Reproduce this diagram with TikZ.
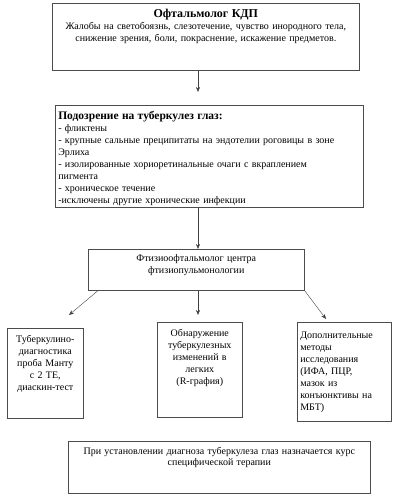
\documentclass[tikz,border=0pt]{standalone}
\usepackage{fontspec}
\setmainfont{Liberation Serif}
\usetikzlibrary{arrows.meta,calc}
\begin{document}
\begin{tikzpicture}[x=1pt,y=-1pt,box/.style={shape=rectangle,draw=black!70,semithick,inner sep=3pt,anchor=north west,font=\fontsize{10}{12}\selectfont},boxC/.style={box,align=center},boxL/.style={box,align=left},arr/.style={draw=black!75,-{Stealth[length=5pt,width=4pt]}}]
\def\ax{198};
\useasboundingbox (0,0) rectangle (400,500);

\node[boxC,text width=301pt,text height=11pt,text depth=50pt] (kdp) at (52,3) {{\fontsize{12}{13}\selectfont\bfseries Офтальмолог КДП}\\Жалобы на светобоязнь, слезотечение, чувство инородного тела,\\снижение зрения, боли, покраснение, искажение предметов.};

\node[boxL,text width=302pt,text height=11pt,text depth=85pt] (susp) at (55,105) {{\fontsize{11.5}{13}\selectfont\bfseries Подозрение на туберкулез глаз:}\\- фликтены\\- крупные сальные преципитаты на эндотелии роговицы в зоне\\Эрлиха\\- изолированные хориоретинальные очаги с вкраплением\\пигмента\\- хроническое течение\\-исключены другие хронические инфекции};

\node[boxC,text width=210pt,text height=9pt,text depth=26pt] (ftiz) at (88,249) {Фтизиоофтальмолог центра\\фтизиопульмонологии};

\node[boxC,text width=70pt,text height=11pt,text depth=73pt] (tub) at (7,328) {Туберкулино-\\диагностика\\проба Манту\\с 2 ТЕ,\\диаскин-тест};
\node[boxC,text width=79pt,text height=11pt,text depth=78pt] (rgr) at (157,322) {Обнаружение\\туберкулезных\\изменений в\\легких\\(R-графия)};
\node[boxL,text width=88pt,text height=13pt,text depth=80pt] (dop) at (297,322) {Дополнительные\\методы\\исследования\\(ИФА, ПЦР,\\мазок из\\конъюнктивы на\\МБТ)};

\node[boxC,text width=296pt,text height=10pt,text depth=36pt,font=\fontsize{10}{11}\selectfont] (ther) at (68,441) {При установлении диагноза туберкулеза глаз назначается курс\\специфической терапии};

\coordinate (t1) at (\ax,92);
\coordinate (t3) at (69,315);
\coordinate (t4) at (\ax,315);
\coordinate (t5) at (326,319);
\draw[arr] (kdp.south -| t1) -- (t1);
\draw[arr] (susp.south -| t1) -- (ftiz.north -| t1);
\draw[arr] ($(ftiz.south west)+(10,0)$) -- (t3);
\draw[arr] (ftiz.south -| t4) -- (t4);
\draw[arr] (ftiz.south east) -- (t5);
\end{tikzpicture}
\end{document}
